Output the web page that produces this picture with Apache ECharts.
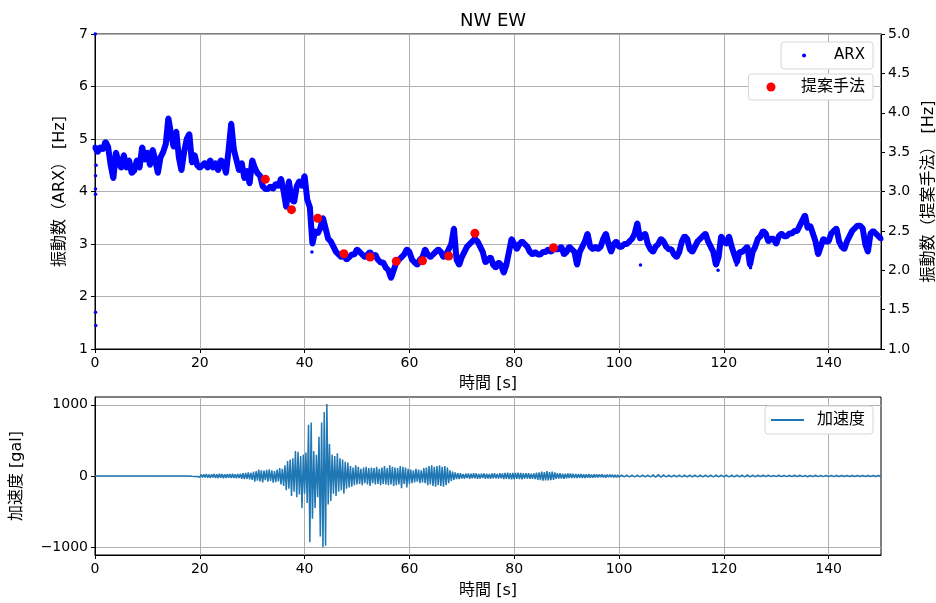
<!DOCTYPE html>
<html>
<head>
<meta charset="utf-8">
<script src="https://cdn.jsdelivr.net/npm/echarts@6/dist/echarts.min.js"></script>
<style>html,body{margin:0;padding:0;background:#fff}#c{width:936px;height:603px}</style>
</head>
<body>
<div id="c"></div>
<script>
// ---------------- data ----------------
const titleText = 'NW EW';
const xTicks = [0, 20, 40, 60, 80, 100, 120, 140];
const accTicks = [-1000, 0, 1000];

// ARX natural frequency [Hz], sampled every 0.5 s from t = 0
const arxStart = 0;
const arxStep = 0.5;
const arxValues = [
  4.85,4.75,4.85,4.8,4.95,4.85,4.5,4.25,4.75,4.55,4.45,4.7,4.45,4.6,4.35,4.4,4.6,4.45,4.85,4.6,
  4.75,4.5,4.8,4.6,4.35,4.65,4.75,4.9,5.4,5.1,4.85,5.15,4.65,4.4,4.75,5.0,5.1,4.55,4.7,4.5,
  4.45,4.5,4.55,4.45,4.6,4.45,4.55,4.4,4.6,4.55,4.35,4.8,5.3,4.8,4.6,4.4,4.55,4.25,4.4,4.15,
  4.6,4.45,4.35,4.3,4.1,4.05,4.05,4.1,4.05,4.15,4.1,4.25,4.0,3.7,4.2,3.85,3.8,4.1,4.2,4.1,
  4.3,3.85,3.7,3.0,3.25,3.2,3.3,3.5,3.3,3.1,3.05,2.95,2.85,2.8,2.75,2.8,2.7,2.75,2.8,2.8,
  2.9,2.85,2.8,2.75,2.8,2.85,2.75,2.8,2.7,2.65,2.65,2.55,2.5,2.35,2.5,2.65,2.7,2.75,2.8,2.9,
  2.85,2.7,2.65,2.6,2.7,2.75,2.9,2.8,2.75,2.8,2.85,2.9,2.85,2.75,2.8,2.9,3.0,3.3,2.7,2.6,
  2.75,2.85,2.95,3.0,3.05,3.1,3.05,2.95,2.85,2.65,2.7,2.75,2.6,2.55,2.65,2.6,2.45,2.6,2.85,3.1,
  3.0,2.9,3.0,3.05,3.0,2.95,2.85,2.8,2.85,2.8,2.8,2.85,2.85,2.9,2.85,2.9,2.9,2.9,2.95,2.8,
  2.85,2.95,2.9,2.85,2.6,2.85,2.95,3.05,3.2,2.95,2.9,2.95,2.9,2.95,3.1,3.2,3.0,2.85,3.0,3.05,
  2.95,2.95,3.0,3.0,3.05,3.1,3.2,3.4,3.1,3.15,3.2,3.0,2.9,2.85,2.95,3.0,3.1,3.05,2.95,2.9,
  2.9,2.8,2.75,2.85,3.05,3.15,3.1,2.9,2.85,2.95,3.05,3.1,3.15,3.2,3.05,2.95,2.85,2.6,2.75,3.15,
  3.05,3.0,3.15,2.95,2.8,2.65,2.85,2.85,2.9,2.95,2.6,2.85,2.95,3.1,3.15,3.25,3.2,3.05,3.1,3.1,
  3.0,3.15,3.2,3.15,3.15,3.2,3.2,3.25,3.25,3.35,3.45,3.55,3.3,3.35,3.2,3.05,2.8,2.95,3.1,3.05,
  3.05,3.2,3.25,3.3,3.05,2.95,2.9,3.05,3.15,3.25,3.3,3.35,3.35,3.3,3.0,2.85,3.2,3.25,3.2,3.15,
  3.1
];
// isolated ARX points
const arxExtraT = [0.05, 0.1, 0.15, 0.1, 0.1, 0.1, 0.2, 41.4, 92.0, 104.1, 118.9, 122.4, 125.1];
const arxExtraV = [7.0, 1.7, 1.45, 3.95, 4.05, 4.3, 4.5, 2.85, 2.6, 2.6, 2.5, 2.6, 2.55];

// proposed method frequencies (right axis)
const propT = [32.5, 37.5, 42.5, 47.5, 52.5, 57.5, 62.5, 67.5, 72.5, 87.5];
const propV = [3.155, 2.769, 2.66, 2.21, 2.168, 2.114, 2.121, 2.181, 2.469, 2.286];

// acceleration [gal]
const accQuietT = [0, 6, 12];
const accQuietV = [0, 1, -1];
const accAStart = 18, accAStep = 0.25;   // 18 s .. 69.75 s
const accA = [
  0,3,-4,5,-6,8,-8,10,
  -18,22,-20,25,-22,28,-25,22,
  -28,25,-22,30,-28,24,-30,32,
  -25,28,-32,26,-28,30,-25,28,
  -30,32,-28,26,-32,30,-28,32,
  -38,40,-45,42,-40,50,-48,45,
  -55,60,-80,70,-65,90,-75,80,
  -90,75,-60,85,-80,95,-70,80,
  -95,70,-85,90,-75,110,-120,100,
  -140,150,-200,210,-180,230,-280,250,
  -220,350,-300,340,-260,280,-450,300,
  -250,330,-380,720,-930,750,-600,350,
  -450,300,-300,550,-850,750,-1000,900,
  -980,1010,-400,450,-350,300,-250,280,
  -280,320,-220,250,-200,230,-250,200,
  -180,190,-160,140,-150,120,-130,150,
  -120,130,-110,100,-130,120,-100,130,
  -120,110,-140,120,-100,110,-120,130,
  -110,100,-130,120,-110,140,-120,110,
  -130,150,-120,130,-140,120,-130,110,
  -120,140,-170,130,-110,120,-160,100,
  -110,90,-100,80,-90,100,-80,90,
  -100,80,-90,110,-100,120,-130,140,
  -120,150,-140,130,-150,140,-130,150,
  -140,130,-150,140,-130,120,-100,80,
  -70,60,-55,50,-45,40,-45,40
];
const accBStart = 70, accBStep = 0.25;   // 70 s .. 99.75 s
const accB = [
  -35,30,-38,34,-30,36,-40,32,
  -34,38,-32,35,-40,30,-36,34,
  -30,36,-38,32,-35,30,-38,35,
  -32,38,-34,30,-36,38,-32,35,
  -42,45,-40,48,-44,40,-46,42,
  -48,44,-40,46,-45,42,-48,40,
  -36,40,-35,38,-40,34,-38,36,
  -42,48,-55,50,-58,60,-65,55,
  -62,68,-60,55,-58,62,-55,50,
  -40,38,-35,40,-36,32,-38,34,
  -32,35,-30,34,-28,32,-30,28,
  -28,30,-26,28,-30,25,-28,26,
  -24,28,-25,22,-26,24,-22,25,
  -20,22,-18,24,-20,18,-22,20,
  -18,20,-16,18,-20,16,-18,15
];
const accCStart = 100, accCStep = 0.5;   // 100 s .. 150 s
const accC = [
  -15,12,-12,14,-12,12,-14,12,-12,14,-12,12,-14,16,-18,20,-18,16,-14,12,
  -12,14,-12,12,-14,12,-12,14,-12,12,-14,12,-12,14,-12,12,-14,12,-12,14,
  -12,12,-14,12,-12,14,-12,12,-14,16,-12,14,-12,12,-10,12,-10,12,-10,10,
  -10,12,-10,10,-10,10,-8,10,-8,10,-8,8,-10,8,-8,10,-8,8,-8,8,
  -8,8,-8,8,-7,8,-7,8,-7,7,-7,8,-7,7,-6,7,-6,7,-6,6,-6
];

// ---------------- build ----------------
const arxPts = arxValues.map((v, i) => [arxStart + i * arxStep, v]);
const arxExtra = arxExtraT.map((t, i) => [t, arxExtraV[i]]);
const propPts = propT.map((t, i) => [t, propV[i]]);
const accPts = []
  .concat(accQuietT.map((t, i) => [t, accQuietV[i]]))
  .concat(accA.map((v, i) => [accAStart + i * accAStep, v]))
  .concat(accB.map((v, i) => [accBStart + i * accBStep, v]))
  .concat(accC.map((v, i) => [accCStart + i * accCStep, v]));

const FONT = "'DejaVu Sans', 'Noto Sans CJK JP', sans-serif";
const BLACK = '#000';
const GRIDC = '#b0b0b0';

function xAxisCfg(gi) {
  return {
    type: 'value', gridIndex: gi, min: 0, max: 150, interval: 20,
    name: '時間 [s]', nameLocation: 'middle', nameGap: gi === 0 ? 27 : 28,
    nameTextStyle: { fontFamily: FONT, fontSize: 16, color: BLACK },
    axisLine: { show: true, onZero: false, lineStyle: { color: BLACK, width: 1 } },
    axisTick: { show: true, length: 4, lineStyle: { color: BLACK }, customValues: xTicks },
    axisLabel: { fontFamily: FONT, fontSize: 14, color: BLACK, margin: 7, customValues: xTicks },
    splitLine: { show: true, lineStyle: { color: GRIDC, width: 1 } }
  };
}

const legendBase = {
  orient: 'horizontal', selectedMode: false,
  borderColor: '#d6d6d6', borderWidth: 1, borderRadius: 3, backgroundColor: '#fff'
};

const chart = echarts.init(document.getElementById('c'), null, { renderer: 'canvas' });
chart.setOption({
  animation: false,
  backgroundColor: '#fff',
  title: {
    text: titleText, left: 488, top: 7, textAlign: 'center',
    textStyle: { fontFamily: FONT, fontSize: 18, fontWeight: 'normal', color: BLACK }
  },
  grid: [
    { left: 95, right: 55, top: 34, height: 315, outerBoundsMode: 'none', containLabel: false,
      show: true, borderColor: BLACK, borderWidth: 1, backgroundColor: 'transparent' },
    { left: 95, right: 55, top: 397, height: 158, outerBoundsMode: 'none', containLabel: false,
      show: true, borderColor: BLACK, borderWidth: 1, backgroundColor: 'transparent' }
  ],
  legend: [
    Object.assign({}, legendBase, {
      right: 63, top: 42, data: [{ name: 'ARX', icon: 'circle', itemStyle: { color: '#0000ff', opacity: 1 } }],
      itemWidth: 50, itemHeight: 4, padding: [6, 8, 6, 21],
      textStyle: { fontFamily: FONT, fontSize: 15, color: BLACK }
    }),
    Object.assign({}, legendBase, {
      right: 63, top: 74, data: [{ name: '提案手法', icon: 'circle', itemStyle: { color: '#ff0000', opacity: 1 } }],
      itemWidth: 50, itemHeight: 9, padding: [5, 8, 5, 18],
      textStyle: { fontFamily: FONT, fontSize: 16, color: BLACK }
    }),
    Object.assign({}, legendBase, {
      right: 63, top: 406, data: [{ name: '加速度', icon: 'rect', itemStyle: { color: '#1f77b4', opacity: 1 } }],
      itemWidth: 33, itemHeight: 2, padding: [6, 8, 6, 6],
      textStyle: { fontFamily: FONT, fontSize: 16, color: BLACK, padding: [0, 0, 0, 8] }
    })
  ],
  xAxis: [xAxisCfg(0), xAxisCfg(1)],
  yAxis: [
    {
      type: 'value', gridIndex: 0, position: 'left', min: 1, max: 7, interval: 1,
      name: '振動数（ARX） [Hz]', nameLocation: 'middle', nameGap: 24, nameRotate: 90,
      nameTextStyle: { fontFamily: FONT, fontSize: 16, color: BLACK },
      axisLine: { show: true, lineStyle: { color: BLACK } },
      axisTick: { show: true, length: 4, lineStyle: { color: BLACK } },
      axisLabel: { fontFamily: FONT, fontSize: 14, color: BLACK, margin: 7 },
      splitLine: { show: true, lineStyle: { color: GRIDC, width: 1 } }
    },
    {
      type: 'value', gridIndex: 0, position: 'right', min: 1, max: 5, interval: 0.5,
      name: '振動数（提案手法） [Hz]', nameLocation: 'middle', nameGap: 40, nameRotate: 90,
      nameTextStyle: { fontFamily: FONT, fontSize: 16, color: BLACK },
      axisLine: { show: true, lineStyle: { color: BLACK } },
      axisTick: { show: true, length: 4, lineStyle: { color: BLACK } },
      axisLabel: { fontFamily: FONT, fontSize: 14, color: BLACK, margin: 7, formatter: v => v.toFixed(1) },
      splitLine: { show: false }
    },
    {
      type: 'value', gridIndex: 1, position: 'left', min: -1110, max: 1110,
      name: '加速度 [gal]', nameLocation: 'middle', nameGap: 70, nameRotate: 90,
      nameTextStyle: { fontFamily: FONT, fontSize: 16, color: BLACK },
      axisLine: { show: true, lineStyle: { color: BLACK } },
      axisTick: { show: true, length: 4, lineStyle: { color: BLACK }, customValues: accTicks },
      axisLabel: { fontFamily: FONT, fontSize: 14, color: BLACK, margin: 7, customValues: accTicks,
        formatter: v => (v < 0 ? '\u2212' + Math.abs(v) : String(v)) },
      splitLine: { show: true, lineStyle: { color: GRIDC, width: 1 } }
    }
  ],
  series: [
    {
      name: 'ARX', type: 'scatter', xAxisIndex: 0, yAxisIndex: 0, data: arxPts,
      symbolSize: 5, itemStyle: { color: '#0000ff', opacity: 1 }, silent: true, z: 3
    },
    {
      name: 'ARX', type: 'line', xAxisIndex: 0, yAxisIndex: 0, data: arxPts,
      showSymbol: false, symbol: 'none', lineStyle: { color: '#0000ff', width: 6 },
      itemStyle: { color: '#0000ff' }, silent: true, z: 2
    },
    {
      name: 'ARX', type: 'scatter', xAxisIndex: 0, yAxisIndex: 0, data: arxExtra,
      symbolSize: 3.5, itemStyle: { color: '#0000ff', opacity: 1 }, silent: true, z: 3
    },
    {
      name: '提案手法', type: 'scatter', xAxisIndex: 0, yAxisIndex: 1, data: propPts,
      symbolSize: 9, itemStyle: { color: '#ff0000', opacity: 1 }, silent: true, z: 5
    },
    {
      name: '加速度', type: 'line', xAxisIndex: 1, yAxisIndex: 2, data: accPts,
      showSymbol: false, symbol: 'none', lineStyle: { color: '#1f77b4', width: 1.5 },
      itemStyle: { color: '#1f77b4' }, silent: true, z: 2
    }
  ]
});
</script>
</body>
</html>
